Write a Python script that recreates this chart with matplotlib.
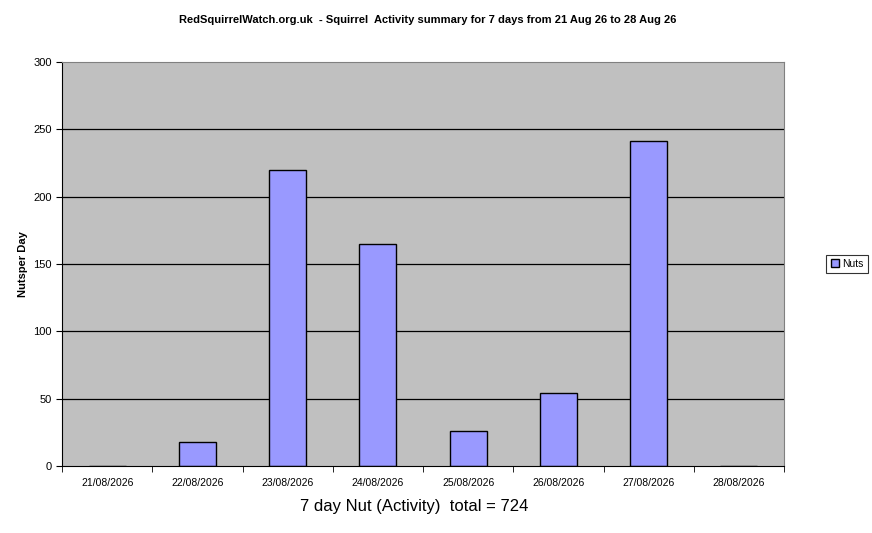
import matplotlib.pyplot as plt
import numpy as np

plt.rcParams['font.family'] = ['Liberation Sans', 'DejaVu Sans']

dates = ['21/08/2026', '22/08/2026', '23/08/2026', '24/08/2026',
         '25/08/2026', '26/08/2026', '27/08/2026', '28/08/2026']
nuts = [0, 18, 220, 165, 26, 54, 241, 0]
y_ticks = [0, 50, 100, 150, 200, 250, 300]

fig = plt.figure(figsize=(8.72, 5.33), dpi=100)
ax = fig.add_axes([62/872, 1-466/533, 722/872, 404/533])
ax.set_facecolor('#C0C0C0')

x = np.arange(len(dates))
ax.bar(x, nuts, width=0.41, color='#9999FF', edgecolor='black', linewidth=1, label='Nuts', zorder=3)

ax.set_xlim(-0.5, len(dates) - 0.5)
ax.set_ylim(0, 300)
ax.set_yticks(y_ticks)
ax.set_yticklabels([str(v) for v in y_ticks], fontsize=8)
for v in y_ticks[1:-1]:
    ax.axhline(v, color='black', linewidth=0.9, zorder=1)

# category labels centred, tick marks at boundaries
ax.set_xticks(x)
ax.set_xticklabels(dates, fontsize=7.5)
ax.tick_params(axis='x', which='major', length=0, pad=9)
ax.set_xticks(np.arange(-0.5, len(dates)), minor=True)
ax.tick_params(axis='x', which='minor', length=4, direction='out')
ax.tick_params(axis='y', length=4, direction='out')

for side in ['top', 'right']:
    ax.spines[side].set_color('#808080')
ax.spines['left'].set_color('black')
ax.spines['bottom'].set_color('black')
ax.spines['bottom'].set_zorder(4)

ax.set_ylabel('Nutsper Day', fontsize=8, fontweight='bold', labelpad=4)
fig.text(414/872, 1-506/533, '7 day Nut (Activity)  total = 724', fontsize=12,
         ha='center', va='center')
fig.text(428/872, 1-20/533,
         'RedSquirrelWatch.org.uk  - Squirrel  Activity summary for 7 days from 21 Aug 26 to 28 Aug 26',
         fontsize=8, fontweight='bold', ha='center', va='center')

leg = fig.legend(loc='center', bbox_to_anchor=(847/872, 1-264/533), fontsize=7.5,
                 frameon=True, fancybox=False, edgecolor='black', handlelength=0.8,
                 handleheight=0.8, handletextpad=0.3, borderpad=0.4)
leg.get_frame().set_linewidth(0.8)

fig.savefig('out.png', dpi=100)
